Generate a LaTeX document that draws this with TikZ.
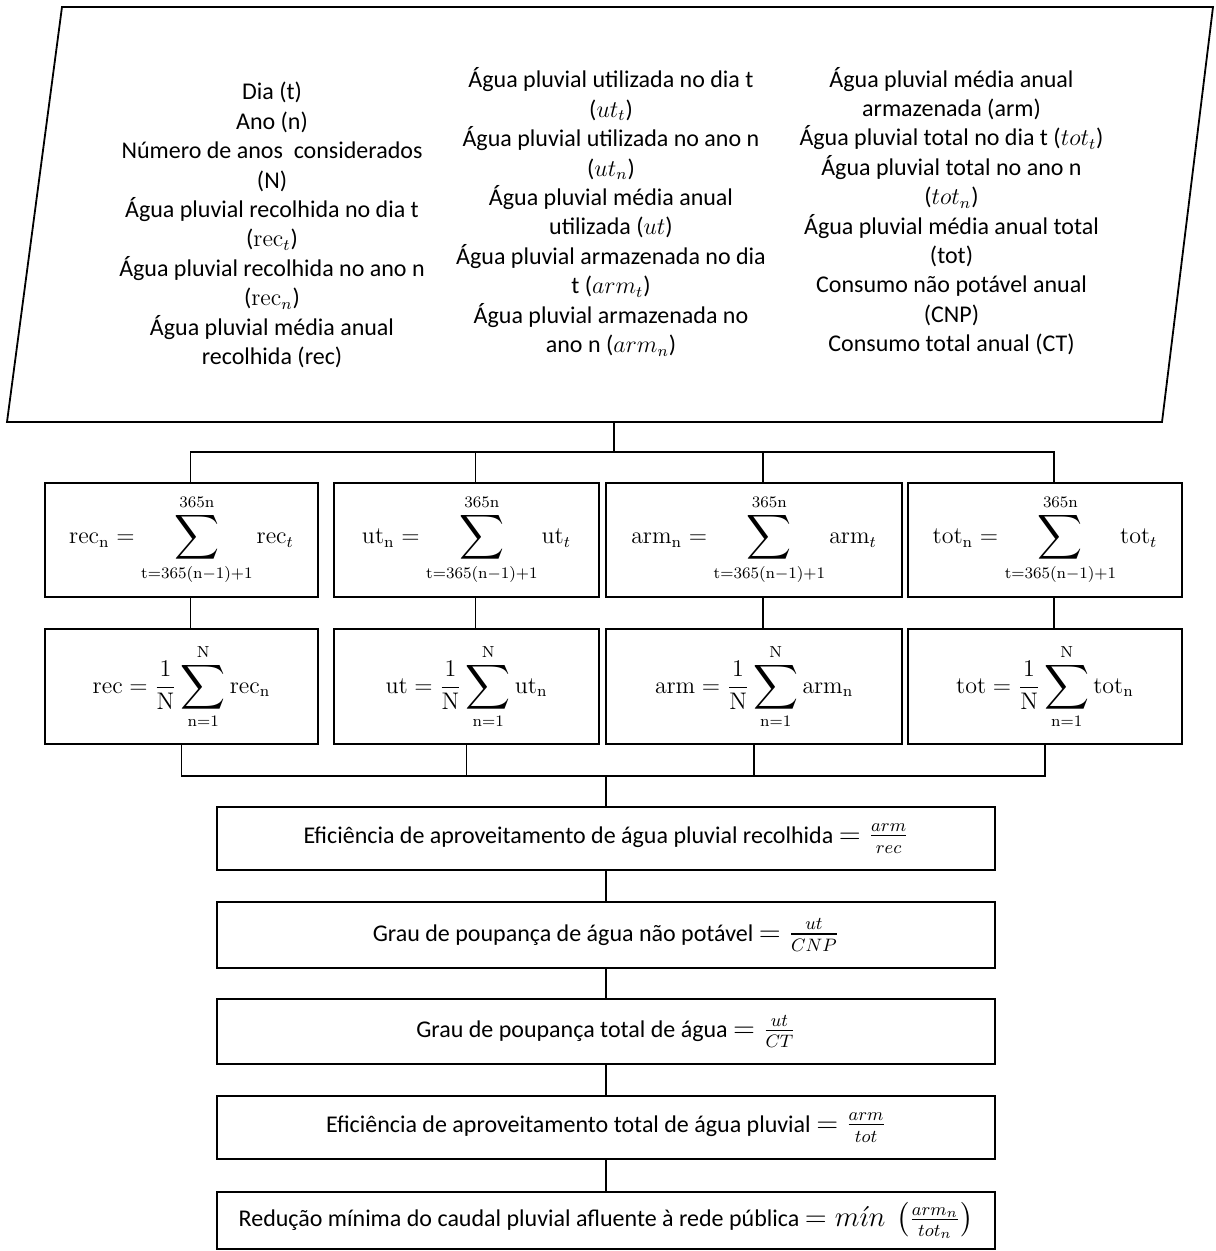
\documentclass[tikz,border=0pt]{standalone}
\usepackage{amsmath}
\usepackage{graphicx}
\usepackage[no-math]{fontspec}
\setmainfont{Carlito}
\usetikzlibrary{positioning}
\newcommand{\bigsum}{\mathop{\vcenter{\hbox{\scalebox{1.3}{$\displaystyle\sum$}}}}\limits}

\begin{document}
\begin{tikzpicture}[x=0.5pt, y=-0.5pt,
        listnode/.style={align=center, inner sep=0pt, font=\fontsize{12}{14.7}\selectfont},
        sumnode/.style={rectangle, draw=black, line width=0.9pt, inner sep=0pt,
            font=\fontsize{12}{14.7}\selectfont},
        effnode/.style={sumnode, minimum width=389pt},
        wire/.style={draw=black, line width=0.7pt}]
        \useasboundingbox (0,0) rectangle (1215,1251);
        \draw[line width=0.9pt] (7,422) -- (62,7) -- (1213,7) -- (1162,422) -- cycle;
        \coordinate (entrada) at (614, 422);
        \coordinate (topo)    at (614, 452);
        \coordinate (juncao)  at (606, 776);

        \node [listnode] at (272, 225) (col1) {Dia (t)\\ Ano (n)\\ Número de anos\ \ considerados\\ (N)\\
            Água pluvial recolhida no dia t\\ (\(\mathrm{rec}_t\))\\ Água pluvial recolhida no ano n\\
            (\(\mathrm{rec}_n\))\\ Água pluvial média anual\\ recolhida (rec)};
        \node [listnode] at (611, 212)   (col2) {Água pluvial utilizada no dia t\\ (\(ut_t\))\\
            Água pluvial utilizada no ano n\\ (\(ut_n\))\\ Água pluvial média anual\\ utilizada (\(ut\))\\
            Água pluvial armazenada no dia\\ t (\(arm_t\))\\ Água pluvial armazenada no\\ ano n (\(arm_n\))};
        \node [listnode] at (951.5, 211) (col3) {Água pluvial média anual\\ armazenada (arm)\\
            Água pluvial total no dia t (\(tot_t\))\\ Água pluvial total no ano n\\ (\(tot_n\))\\
            Água pluvial média anual total\\ (tot)\\ Consumo não potável anual\\ (CNP)\\ Consumo total anual (CT)};

        \node [sumnode, minimum width=136.5pt, minimum height=57pt] at (181.5, 540) (sa)
            {$\displaystyle \mathrm{rec}_\mathrm{n} = \bigsum_{\mathrm{t}=365(\mathrm{n}-1)+1}^{365\mathrm{n}} \mathrm{rec}_t$};
        \node [sumnode, minimum width=132.5pt, minimum height=57pt] at (466.5, 540) (sb)
            {$\displaystyle \mathrm{ut}_\mathrm{n} = \bigsum_{\mathrm{t}=365(\mathrm{n}-1)+1}^{365\mathrm{n}} \mathrm{ut}_t$};
        \node [sumnode, minimum width=148pt, minimum height=57pt]   at (754, 540)   (sc)
            {$\displaystyle \mathrm{arm}_\mathrm{n} = \bigsum_{\mathrm{t}=365(\mathrm{n}-1)+1}^{365\mathrm{n}} \mathrm{arm}_t$};
        \node [sumnode, minimum width=137pt, minimum height=57pt]   at (1045, 540)  (sd)
            {$\displaystyle \mathrm{tot}_\mathrm{n} = \bigsum_{\mathrm{t}=365(\mathrm{n}-1)+1}^{365\mathrm{n}} \mathrm{tot}_t$};

        \node [sumnode, minimum width=136.5pt, minimum height=57.5pt] at (181.5, 686.5) (ma)
            {$\displaystyle \mathrm{rec} = \frac{1}{\mathrm{N}} \bigsum_{\mathrm{n}=1}^{\mathrm{N}} \mathrm{rec}_\mathrm{n}$};
        \node [sumnode, minimum width=132.5pt, minimum height=57.5pt] at (466.5, 686.5) (mb)
            {$\displaystyle \mathrm{ut} = \frac{1}{\mathrm{N}} \bigsum_{\mathrm{n}=1}^{\mathrm{N}} \mathrm{ut}_\mathrm{n}$};
        \node [sumnode, minimum width=148pt, minimum height=57.5pt]   at (754, 686.5)   (mc)
            {$\displaystyle \mathrm{arm} = \frac{1}{\mathrm{N}} \bigsum_{\mathrm{n}=1}^{\mathrm{N}} \mathrm{arm}_\mathrm{n}$};
        \node [sumnode, minimum width=137pt, minimum height=57.5pt]   at (1045, 686.5)  (md)
            {$\displaystyle \mathrm{tot} = \frac{1}{\mathrm{N}} \bigsum_{\mathrm{n}=1}^{\mathrm{N}} \mathrm{tot}_\mathrm{n}$};

        \node [effnode, minimum height=31.5pt] at (606, 838.5)  (ef1)
            {Eficiência de aproveitamento de água pluvial recolhida {\fontsize{13.5}{16}\selectfont$= \frac{arm}{rec}$}};
        \node [effnode, minimum height=33pt]   at (606, 935)    (ef2)
            {Grau de poupança de água não potável {\fontsize{13.5}{16}\selectfont$= \frac{ut}{CNP}$}};
        \node [effnode, minimum height=32.5pt] at (606, 1031.5) (ef3)
            {Grau de poupança total de água {\fontsize{13.5}{16}\selectfont$= \frac{ut}{CT}$}};
        \node [effnode, minimum height=31.5pt] at (606, 1127.5) (ef4)
            {Eficiência de aproveitamento total de água pluvial {\fontsize{13.5}{16}\selectfont$= \frac{arm}{tot}$}};
        \node [effnode, minimum height=28.5pt] at (606, 1220.5) (ef5)
            {Redução mínima do caudal pluvial afluente à rede pública {\fontsize{13.5}{16}\selectfont$= m\acute{\imath}n\ \left(\frac{arm_n}{tot_n}\right)$}};

        \draw[wire] (entrada) -- (topo);
        \foreach \n in {sa, sb, sc, sd}
            \draw[wire] (topo) -| ([xshift=4.5pt]\n.north);
        \foreach \n/\m in {sa/ma, sb/mb, sc/mc, sd/md}
            \draw[wire] ([xshift=4.5pt]\n.south) -- ([xshift=4.5pt]\m.north);
        \foreach \m in {ma, mb, mc, md}
            \draw[wire] (\m) |- (juncao);
        \draw[wire] (juncao) -- (ef1);
        \foreach \p/\q in {ef1/ef2, ef2/ef3, ef3/ef4, ef4/ef5}
            \draw[wire] (\p) -- (\q);
    \end{tikzpicture}
\end{document}
